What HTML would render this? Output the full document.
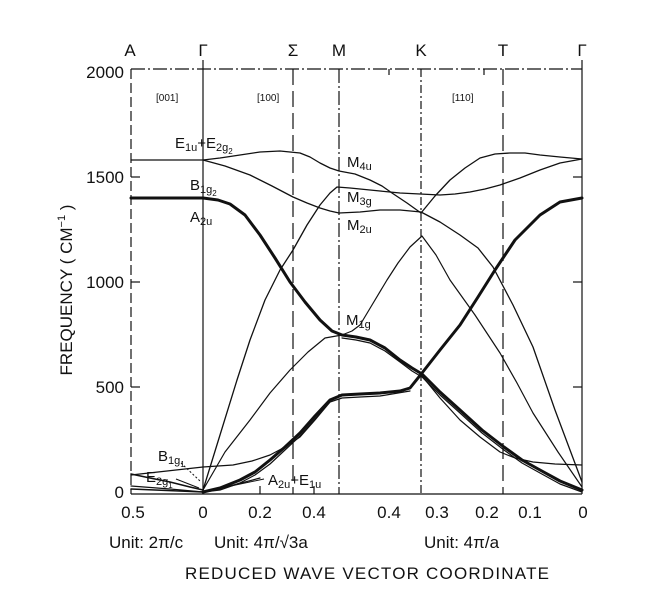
<!DOCTYPE html>
<html><head><meta charset="utf-8">
<style>
html,body{margin:0;padding:0;background:#fff;}
svg{display:block;}
text{font-family:"Liberation Sans",sans-serif;fill:#111;}
</style></head>
<body>
<svg width="645" height="600" viewBox="0 0 645 600" xmlns="http://www.w3.org/2000/svg">
<g stroke="#111" fill="none" stroke-width="1.2">
<line x1="131" y1="69" x2="582" y2="69" stroke-dasharray="14,3,2,3"/>
<line x1="131" y1="69" x2="131" y2="494" stroke-dasharray="10,4"/>
<line x1="131" y1="494" x2="582" y2="494"/>
<line x1="203" y1="60" x2="203" y2="494"/>
<line x1="582" y1="60" x2="582" y2="494"/>
<line x1="293" y1="69" x2="293" y2="494" stroke-dasharray="16,6"/>
<line x1="339" y1="69" x2="339" y2="494" stroke-dasharray="14,3,2,3"/>
<line x1="421" y1="69" x2="421" y2="494" stroke-dasharray="8,3,2,3"/>
<line x1="503" y1="69" x2="503" y2="494" stroke-dasharray="16,6"/>
<line x1="131" y1="177" x2="140" y2="177"/>
<line x1="131" y1="282" x2="140" y2="282"/>
<line x1="131" y1="387" x2="140" y2="387"/>
<line x1="573" y1="282" x2="582" y2="282"/>
<line x1="573" y1="387" x2="582" y2="387"/>
<line x1="573" y1="177" x2="582" y2="177"/>
<line x1="260" y1="494" x2="260" y2="486"/>
<line x1="314" y1="494" x2="314" y2="486"/>
<line x1="389" y1="69" x2="389" y2="75"/>
<line x1="484" y1="69" x2="484" y2="75"/>
</g>
<g stroke="#111" fill="none" stroke-width="1.3" stroke-linejoin="round" stroke-linecap="round">
<polyline points="131,160 203,160 220,158 240,155 260,152 280,151 300,153 310,157 320,163 330,168 339,171 355,174 370,180 382,186 392,193 407,203 421,213"/>
<polyline points="421,213 435,196 450,180 465,168 480,158 495,154 510,153 525,153 540,155 560,157 582,159"/>
<polyline points="203,160 225,166 250,175 272,186 293,197 307,203 320,208 330,211 339,213 360,212 380,210 400,210 421,212 440,222 460,235 478,248 493,267 513,305 533,347 555,410 570,450 582,482"/>
<polyline points="203,490 220,435 237,380 250,340 265,300 280,270 293,250 307,225 320,205 330,193 337,187 350,188 360,189 380,191 400,193 420,194 440,195 455,194 470,192 485,189 500,185 520,178 540,170 560,163 582,159"/>
<polyline stroke-width="3" points="131,198 203,198 218,200 230,204 245,215 260,235 275,258 290,282 305,302 320,320 332,331 342,335 356,337 370,340 385,348 400,360 412,368 422,374 440,392 460,410 482,430 504,447 522,460 540,470 560,481 582,490"/>
<polyline stroke-width="1.2" points="342,338 356,340 370,343 385,351 400,362 412,371 422,377 440,395 460,413 482,433 504,450 522,463 540,473 560,484 582,492"/>
<polyline stroke-width="1.2" points="203,490 225,452 250,420 270,393 290,370 308,352 325,338 342,335 352,331 360,325 372,305 387,280 398,263 410,247 422,236 436,255 450,280 475,315 500,353 517,383 533,413 558,452 582,487"/>
<polyline stroke-width="3" points="203,492 220,488 240,480 255,472 270,460 285,447 300,433 315,416 330,400 342,395 360,394 380,393 400,391 410,388 422,373 440,350 460,325 478,297 495,270 515,240 540,215 560,202 582,198"/>
<polyline stroke-width="1.2" points="203,492 220,490 240,483 255,475 270,464 285,450 300,436 315,419 330,402 342,398 360,397 380,396 410,391"/>
<polyline stroke-width="1.2" points="131,475 203,467 218,466 233,465 252,461 270,455 285,447 300,437 315,420 330,402"/>
<polyline stroke-width="1.2" points="422,376 440,398 460,420 480,437 500,452 515,458 533,462 555,464 582,465"/>
<polyline stroke-width="1.6" points="131,474 150,478 170,482 190,487 203,490"/>
<polyline stroke-width="1.6" points="131,489 203,492"/>
<polyline stroke-width="1.2" points="131,486 170,489 203,492"/>
<polyline stroke-width="1.2" points="203,492 230,486 260,478"/>
</g>
<g font-size="17">
<text x="124" y="78" text-anchor="end">2000</text>
<text x="124" y="183" text-anchor="end">1500</text>
<text x="124" y="288" text-anchor="end">1000</text>
<text x="124" y="393" text-anchor="end">500</text>
<text x="124" y="498" text-anchor="end">0</text>
<text x="130" y="56" text-anchor="middle">A</text>
<text x="203" y="56" text-anchor="middle" font-family="Liberation Serif">Γ</text>
<text x="293" y="56" text-anchor="middle">Σ</text>
<text x="339" y="56" text-anchor="middle">M</text>
<text x="421" y="56" text-anchor="middle">K</text>
<text x="503" y="56" text-anchor="middle">T</text>
<text x="582" y="56" text-anchor="middle" font-family="Liberation Serif">Γ</text>
<text x="133" y="518" text-anchor="middle">0.5</text>
<text x="203" y="518" text-anchor="middle">0</text>
<text x="260" y="518" text-anchor="middle">0.2</text>
<text x="314" y="518" text-anchor="middle">0.4</text>
<text x="389" y="518" text-anchor="middle">0.4</text>
<text x="437" y="518" text-anchor="middle">0.3</text>
<text x="487" y="518" text-anchor="middle">0.2</text>
<text x="530" y="518" text-anchor="middle">0.1</text>
<text x="583" y="518" text-anchor="middle">0</text>
<text x="109" y="548">Unit: 2π/c</text>
<text x="214" y="548">Unit: 4π/√3a</text>
<text x="424" y="548">Unit: 4π/a</text>
<text x="185" y="579" textLength="364">REDUCED WAVE VECTOR COORDINATE</text>
<text transform="translate(72,290) rotate(-90)" text-anchor="middle">FREQUENCY ( CM<tspan font-size="11" dy="-7">−1</tspan><tspan dy="7"> )</tspan></text>
</g>
<g font-size="10">
<text x="156" y="101">[001]</text>
<text x="257" y="101">[100]</text>
<text x="452" y="101">[110]</text>
</g>
<g font-size="15">
<text x="175" y="148">E<tspan font-size="11" dy="3">1u</tspan><tspan dy="-3">+E</tspan><tspan font-size="11" dy="3">2g</tspan><tspan font-size="8" dy="3">2</tspan></text>
<text x="190" y="190">B<tspan font-size="11" dy="3">1g</tspan><tspan font-size="8" dy="3">2</tspan></text>
<text x="190" y="222">A<tspan font-size="11" dy="3">2u</tspan></text>
<text x="347" y="167">M<tspan font-size="11" dy="3">4u</tspan></text>
<text x="347" y="202">M<tspan font-size="11" dy="3">3g</tspan></text>
<text x="347" y="230">M<tspan font-size="11" dy="3">2u</tspan></text>
<text x="346" y="325">M<tspan font-size="11" dy="3">1g</tspan></text>
<text x="158" y="461">B<tspan font-size="11" dy="3">1g</tspan><tspan font-size="8" dy="3">1</tspan></text>
<text x="146" y="482">E<tspan font-size="11" dy="3">2g</tspan><tspan font-size="8" dy="3">1</tspan></text>
<text x="268" y="485">A<tspan font-size="11" dy="3">2u</tspan><tspan dy="-3">+E</tspan><tspan font-size="11" dy="3">1u</tspan></text>
</g>
<g stroke="#111" stroke-width="1" fill="none">
<path d="M181 463 L200 481" stroke-dasharray="2,2"/>
<path d="M176 479 L199 488"/>
<path d="M264 479 L212 490"/>
</g>
</svg>
</body></html>
